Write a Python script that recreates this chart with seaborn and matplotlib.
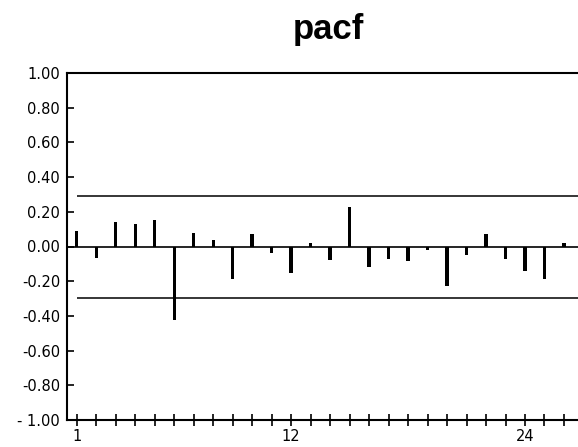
import matplotlib
matplotlib.use("Agg")
import matplotlib.pyplot as plt
import seaborn as sns
import pandas as pd

lags = list(range(1, 27))
pacf_values = [0.09, -0.067, 0.144, 0.131, 0.152, -0.422, 0.08, 0.037, -0.188, 0.071,
               -0.04, -0.155, 0.02, -0.079, 0.23, -0.121, -0.073, -0.082, -0.021, -0.227,
               -0.05, 0.073, -0.073, -0.144, -0.188, 0.022]
conf_upper = 0.29
conf_lower = -0.295
y_ticks = [1.0, 0.8, 0.6, 0.4, 0.2, 0.0, -0.2, -0.4, -0.6, -0.8, -1.0]
y_tick_labels = ["1.00", "0.80", "0.60", "0.40", "0.20", "0.00",
                 "-0.20", "-0.40", "-0.60", "-0.80", "- 1.00"]
x_tick_labels = {1: "1", 12: "12", 24: "24"}
title = "pacf"

sns.set_theme(style="white")
plt.rcParams["font.family"] = ["DejaVu Sans"]

df = pd.DataFrame({"lag": lags, "pacf": pacf_values})

fig = plt.figure(figsize=(5.78, 4.47), dpi=100)
ax = fig.add_axes([67 / 578, 27 / 447, 511 / 578, 347 / 447])

sns.barplot(data=df, x="lag", y="pacf", native_scale=True, color="black",
            width=0.17, ax=ax, saturation=1, linewidth=0, errorbar=None)

ax.set_xlim(0.5, 26.72)
ax.set_ylim(-1.0, 1.0)

# zero line and confidence bands
ax.axhline(0.0, color="black", lw=1.2, zorder=1)
ax.hlines([conf_upper, conf_lower], xmin=lags[0], xmax=26.72, color="black", lw=1.1)

ax.spines["right"].set_visible(False)
for side in ["left", "top", "bottom"]:
    ax.spines[side].set_visible(True)
    ax.spines[side].set_color("black")
    ax.spines[side].set_linewidth(1.5)

ax.set_yticks(y_ticks)
ax.set_yticklabels(y_tick_labels, fontsize=10.5, color="black")
ax.set_xticks(lags)
ax.set_xticklabels([x_tick_labels.get(l, "") for l in lags], fontsize=10.5, color="black")
ax.tick_params(axis="y", direction="in", length=5, width=1.2, color="black", pad=5,
               left=True)
ax.tick_params(axis="x", direction="inout", length=9, width=1.2, color="black", pad=2,
               bottom=True)
ax.set_xlabel("")
ax.set_ylabel("")
ax.grid(False)

fig.text(328 / 578, 1 - 30 / 447, title, ha="center", va="center", color="black",
         fontsize=25, fontweight="bold", family=["Liberation Sans", "DejaVu Sans"])

fig.savefig("out.png", dpi=100)
